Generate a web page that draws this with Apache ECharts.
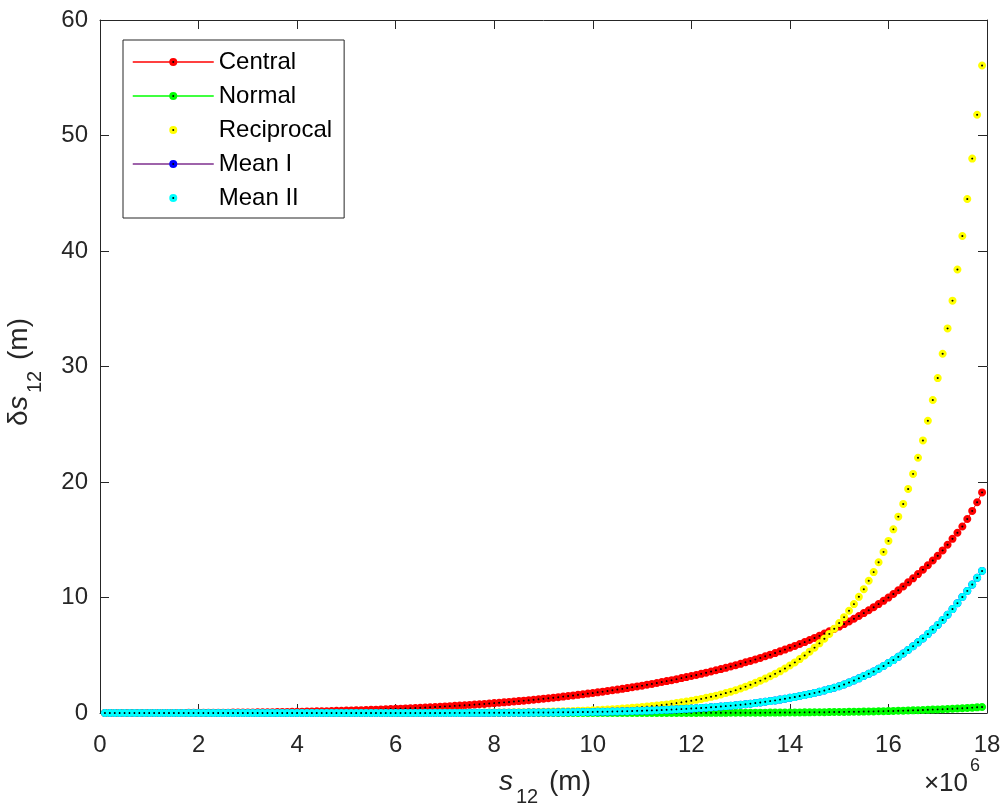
<!DOCTYPE html>
<html><head><meta charset="utf-8">
<script src="https://cdn.jsdelivr.net/npm/echarts@6/dist/echarts.min.js"></script>
<style>html,body{margin:0;padding:0;background:#fff}#c{width:1008px;height:811px}</style>
</head><body><div id="c"></div>
<script>
// s12 in units of 10^6 m
const s12 = [0.1,0.2,0.3,0.4,0.5,0.6,0.7,0.8,0.9,1.0,
1.1,1.2,1.3,1.4,1.5,1.6,1.7,1.8,1.9,2.0,
2.1,2.2,2.3,2.4,2.5,2.6,2.7,2.8,2.9,3.0,
3.1,3.2,3.3,3.4,3.5,3.6,3.7,3.8,3.9,4.0,
4.1,4.2,4.3,4.4,4.5,4.6,4.7,4.8,4.9,5.0,
5.1,5.2,5.3,5.4,5.5,5.6,5.7,5.8,5.9,6.0,
6.1,6.2,6.3,6.4,6.5,6.6,6.7,6.8,6.9,7.0,
7.1,7.2,7.3,7.4,7.5,7.6,7.7,7.8,7.9,8.0,
8.1,8.2,8.3,8.4,8.5,8.6,8.7,8.8,8.9,9.0,
9.1,9.2,9.3,9.4,9.5,9.6,9.7,9.8,9.9,10.0,
10.1,10.2,10.3,10.4,10.5,10.6,10.7,10.8,10.9,11.0,
11.1,11.2,11.3,11.4,11.5,11.6,11.7,11.8,11.9,12.0,
12.1,12.2,12.3,12.4,12.5,12.6,12.7,12.8,12.9,13.0,
13.1,13.2,13.3,13.4,13.5,13.6,13.7,13.8,13.9,14.0,
14.1,14.2,14.3,14.4,14.5,14.6,14.7,14.8,14.9,15.0,
15.1,15.2,15.3,15.4,15.5,15.6,15.7,15.8,15.9,16.0,
16.1,16.2,16.3,16.4,16.5,16.6,16.7,16.8,16.9,17.0,
17.1,17.2,17.3,17.4,17.5,17.6,17.7,17.8,17.9];

const central = [0,0,0,0,0,0.001,0.001,0.001,0.002,0.002,
0.003,0.003,0.004,0.005,0.006,0.007,0.009,0.011,0.013,0.016,
0.017,0.019,0.022,0.024,0.027,0.031,0.034,0.039,0.043,0.049,
0.053,0.057,0.062,0.067,0.073,0.079,0.086,0.093,0.101,0.110,
0.117,0.125,0.134,0.143,0.152,0.162,0.173,0.185,0.197,0.211,
0.222,0.234,0.247,0.261,0.275,0.291,0.307,0.323,0.341,0.360,
0.377,0.395,0.413,0.433,0.453,0.474,0.497,0.520,0.544,0.570,
0.594,0.618,0.644,0.671,0.699,0.728,0.758,0.790,0.823,0.857,
0.889,0.923,0.957,0.993,1.03,1.07,1.11,1.15,1.19,1.24,
1.28,1.32,1.37,1.42,1.47,1.52,1.57,1.62,1.68,1.73,
1.79,1.85,1.91,1.97,2.03,2.09,2.16,2.23,2.30,2.37,
2.45,2.52,2.60,2.68,2.76,2.84,2.93,3.02,3.11,3.20,
3.29,3.39,3.49,3.59,3.70,3.80,3.91,4.03,4.14,4.26,
4.39,4.51,4.64,4.77,4.91,5.05,5.19,5.34,5.49,5.65,
5.81,5.97,6.14,6.32,6.50,6.68,6.88,7.07,7.27,7.48,
7.70,7.93,8.16,8.40,8.65,8.90,9.16,9.43,9.71,9.99,
10.30,10.63,10.96,11.31,11.66,12.03,12.41,12.79,13.20,13.61,
14.08,14.57,15.08,15.61,16.15,16.80,17.50,18.25,19.10];

const normal = [0,0,0,0,0,0,0,0,0,0,
0,0,0,0,0,0,0,0,0,0,
0,0,0,0,0,0,0,0,0,0,
0,0,0,0,0,0,0,0,0,0,
0,0,0,0,0,0,0,0,0,0,
0,0,0,0,0,0,0,0,0,0,
0,0,0,0,0,0,0,0,0,0,
0,0,0,0,0,0,0,0,0,0,
0,0,0,0,0,0,0,0,0,
0.001,0.001,0.001,0.001,0.001,0.001,0.001,0.001,0.001,0.001,
0.002,0.002,0.002,0.002,0.002,0.002,0.003,0.003,0.003,0.004,
0.004,0.004,0.005,0.005,0.006,0.006,0.007,0.007,0.008,0.009,
0.009,0.010,0.011,0.012,0.013,0.014,0.015,0.017,0.018,0.019,
0.021,0.023,0.024,0.026,0.028,0.031,0.033,0.035,0.038,0.041,
0.044,0.048,0.051,0.055,0.059,0.063,0.067,0.072,0.077,0.083,
0.088,0.095,0.101,0.108,0.115,0.123,0.131,0.140,0.149,0.159,
0.169,0.180,0.192,0.204,0.217,0.230,0.245,0.260,0.276,0.293,
0.311,0.329,0.349,0.370,0.392,0.415,0.439,0.465,0.492,0.520];

const reciprocal = [0,0,0,0,0,0,0,0,0,0,
0,0,0,0,0,0,0,0,0,0,
0,0,0,0,0,0,0,0,0,0,
0,0,0,0,0,0,0,0,0,0,
0,0,0,0,0,0,0,0,0,
0.001,0.001,0.001,0.002,0.002,0.002,0.002,0.003,0.003,0.003,
0.004,0.005,0.005,0.006,0.007,0.007,0.008,0.009,0.011,0.012,
0.013,0.015,0.017,0.019,0.021,0.024,0.026,0.029,0.033,0.036,
0.040,0.044,0.049,0.054,0.059,0.065,0.072,0.079,0.087,0.095,
0.104,0.113,0.124,0.135,0.147,0.160,0.174,0.189,0.205,0.223,
0.241,0.261,0.283,0.306,0.330,0.356,0.384,0.414,0.446,0.481,
0.517,0.555,0.597,0.641,0.689,0.741,0.796,0.855,0.920,0.990,
1.06,1.14,1.22,1.31,1.40,1.50,1.61,1.73,1.85,1.98,
2.12,2.28,2.44,2.61,2.80,2.98,3.18,3.39,3.61,3.85,
4.11,4.38,4.67,4.98,5.31,5.66,6.03,6.43,6.85,7.30,
7.79,8.30,8.85,9.43,10.06,10.72,11.45,12.20,13.05,13.95,
14.90,15.90,17.00,18.10,19.40,20.70,22.10,23.60,25.30,27.10,
29.00,31.10,33.30,35.70,38.40,41.30,44.50,48.00,51.80,56.06];

const meanI = [0,0,0,0,0,0,0,0,0,0,
0,0,0,0,0,0,0,0,0,0,
0,0,0,0,0,0,0,0,0,0,
0,0,0,0,0,0,0,0,0,0,
0,0,0,0,0,0,0,0,0,
0.001,0.001,0.001,0.001,0.001,0.001,0.001,0.002,0.002,0.002,
0.002,0.003,0.003,0.003,0.004,0.004,0.004,0.005,0.006,0.006,
0.007,0.008,0.008,0.009,0.010,0.011,0.012,0.014,0.015,0.017,
0.018,0.020,0.022,0.024,0.026,0.028,0.031,0.034,0.037,0.040,
0.044,0.047,0.051,0.055,0.060,0.065,0.070,0.076,0.082,0.089,
0.096,0.103,0.111,0.119,0.128,0.138,0.148,0.159,0.171,0.184,
0.197,0.211,0.225,0.241,0.258,0.275,0.294,0.315,0.336,0.360,
0.385,0.409,0.436,0.464,0.494,0.526,0.560,0.596,0.635,0.676,
0.720,0.764,0.811,0.861,0.914,0.970,1.03,1.09,1.16,1.23,
1.31,1.38,1.47,1.55,1.64,1.74,1.84,1.95,2.07,2.19,
2.32,2.47,2.64,2.81,3.00,3.20,3.39,3.60,3.83,4.07,
4.32,4.58,4.86,5.15,5.46,5.79,6.12,6.46,6.83,7.22,
7.62,8.05,8.51,9.00,9.51,10.05,10.57,11.12,11.70,12.30];

const meanII = [0,0,0,0,0,0,0,0,0,0,
0,0,0,0,0,0,0,0,0,0,
0,0,0,0,0,0,0,0,0,0,
0,0,0,0,0,0,0,0,0,0,
0,0,0,0,0,0,0,0,0,
0.001,0.001,0.001,0.001,0.001,0.001,0.001,0.002,0.002,0.002,
0.002,0.003,0.003,0.003,0.004,0.004,0.004,0.005,0.006,0.006,
0.007,0.008,0.008,0.009,0.010,0.011,0.012,0.014,0.015,0.017,
0.018,0.020,0.022,0.024,0.026,0.028,0.031,0.034,0.037,0.040,
0.044,0.047,0.051,0.055,0.060,0.065,0.070,0.076,0.082,0.089,
0.096,0.103,0.111,0.119,0.128,0.138,0.148,0.159,0.171,0.184,
0.197,0.211,0.225,0.241,0.258,0.275,0.294,0.315,0.336,0.360,
0.385,0.409,0.436,0.464,0.494,0.526,0.560,0.596,0.635,0.676,
0.720,0.764,0.811,0.861,0.914,0.970,1.03,1.09,1.16,1.23,
1.31,1.38,1.47,1.55,1.64,1.74,1.84,1.95,2.07,2.19,
2.32,2.47,2.64,2.81,3.00,3.20,3.39,3.60,3.83,4.07,
4.32,4.58,4.86,5.15,5.46,5.79,6.12,6.46,6.83,7.22,
7.62,8.05,8.51,9.00,9.51,10.05,10.57,11.12,11.70,12.30];

const seriesNames = ['Central','Normal','Reciprocal','Mean I','Mean II'];
const xTicks = [0,2,4,6,8,10,12,14,16,18];
const yTicks = [0,10,20,30,40,50,60];

const FONT = '"Liberation Sans", Arial, Helvetica, sans-serif';
const AX = '#262626';

function pts(arr){ return s12.map((x,i)=>[x, arr[i]]); }

function mk(name, data, fill, line, showLine){
  return {
    name: name, type: 'line', data: pts(data),
    symbol: 'circle', symbolSize: 5, showSymbol: true, silent: true,
    itemStyle: {color: '#000', borderColor: fill, borderWidth: 3},
    lineStyle: showLine ? {color: line, width: 1} : {color: line, width: 0, opacity: 0},
    emphasis: {disabled: true}, animation: false
  };
}

const chart = echarts.init(document.getElementById('c'), null, {renderer: 'canvas'});
const xMain = {
  type: 'value', min: xTicks[0], max: xTicks[xTicks.length-1], interval: 2,
  position: 'bottom',
  axisLine: {onZero: false, lineStyle: {color: AX, width: 1}},
  axisTick: {inside: true, length: 9, lineStyle: {color: AX}},
  axisLabel: {fontSize: 24, color: AX, margin: 20, fontFamily: FONT},
  splitLine: {show: false}
};
const yMain = {
  type: 'value', min: yTicks[0], max: yTicks[yTicks.length-1], interval: 10,
  position: 'left',
  axisLine: {onZero: false, lineStyle: {color: AX, width: 1}},
  axisTick: {inside: true, length: 9, lineStyle: {color: AX}},
  axisLabel: {fontSize: 24, color: AX, margin: 12, fontFamily: FONT},
  splitLine: {show: false}
};
const option = {
  animation: false,
  backgroundColor: '#fff',
  grid: {left: 100, right: 21, top: 20, bottom: 98, containLabel: false},
  xAxis: [xMain, Object.assign({}, xMain, {position: 'top', axisLabel: {show: false}})],
  yAxis: [yMain, Object.assign({}, yMain, {position: 'right', axisLabel: {show: false}})],
  legend: {
    data: seriesNames, orient: 'vertical', left: 123, top: 40,
    itemWidth: 81, itemHeight: 6.25, itemGap: 10,
    padding: [10, 12, 8, 9],
    borderColor: AX, borderWidth: 1, backgroundColor: '#fff',
    selectedMode: false,
    itemStyle: {borderWidth: 3},
    lineStyle: {width: 1.5},
    textStyle: {fontSize: 24, color: '#000', fontFamily: FONT, lineHeight: 24}
  },
  graphic: [
    {type: 'text', x: 499, y: 782, silent: true,
     style: {text: 's', font: 'italic 28px ' + FONT, fill: AX, textAlign: 'left', textVerticalAlign: 'middle'}},
    {type: 'text', x: 516, y: 797, silent: true,
     style: {text: '12', font: '20px ' + FONT, fill: AX, textAlign: 'left', textVerticalAlign: 'middle'}},
    {type: 'text', x: 549, y: 782, silent: true,
     style: {text: '(m)', font: '28px ' + FONT, fill: AX, textAlign: 'left', textVerticalAlign: 'middle'}},
    {type: 'group', x: 19, y: 426, rotation: Math.PI / 2, silent: true, children: [
      {type: 'text', x: 0, y: 0, style: {text: 'δ', font: '28px ' + FONT, fill: AX, textAlign: 'left', textVerticalAlign: 'middle'}},
      {type: 'text', x: 16, y: 0, style: {text: 's', font: 'italic 28px ' + FONT, fill: AX, textAlign: 'left', textVerticalAlign: 'middle'}},
      {type: 'text', x: 33, y: 16, style: {text: '12', font: '20px ' + FONT, fill: AX, textAlign: 'left', textVerticalAlign: 'middle'}},
      {type: 'text', x: 66, y: 0, style: {text: '(m)', font: '28px ' + FONT, fill: AX, textAlign: 'left', textVerticalAlign: 'middle'}}
    ]},
    {type: 'text', x: 968, y: 784, silent: true,
     style: {text: '×10', font: '26px ' + FONT, fill: AX, textAlign: 'right', textVerticalAlign: 'middle'}},
    {type: 'text', x: 970, y: 766, silent: true,
     style: {text: '6', font: '18px ' + FONT, fill: AX, textAlign: 'left', textVerticalAlign: 'middle'}}
  ],
  series: [
    mk(seriesNames[0], central, '#ff0000', '#ff0000', true),
    mk(seriesNames[1], normal, '#00ff00', '#00ff00', true),
    mk(seriesNames[2], reciprocal, '#ffff00', '#ffff00', false),
    mk(seriesNames[3], meanI, '#0000ff', '#7e2f8e', true),
    mk(seriesNames[4], meanII, '#00ffff', '#00ffff', false)
  ]
};
chart.setOption(option);
</script>
</body></html>
